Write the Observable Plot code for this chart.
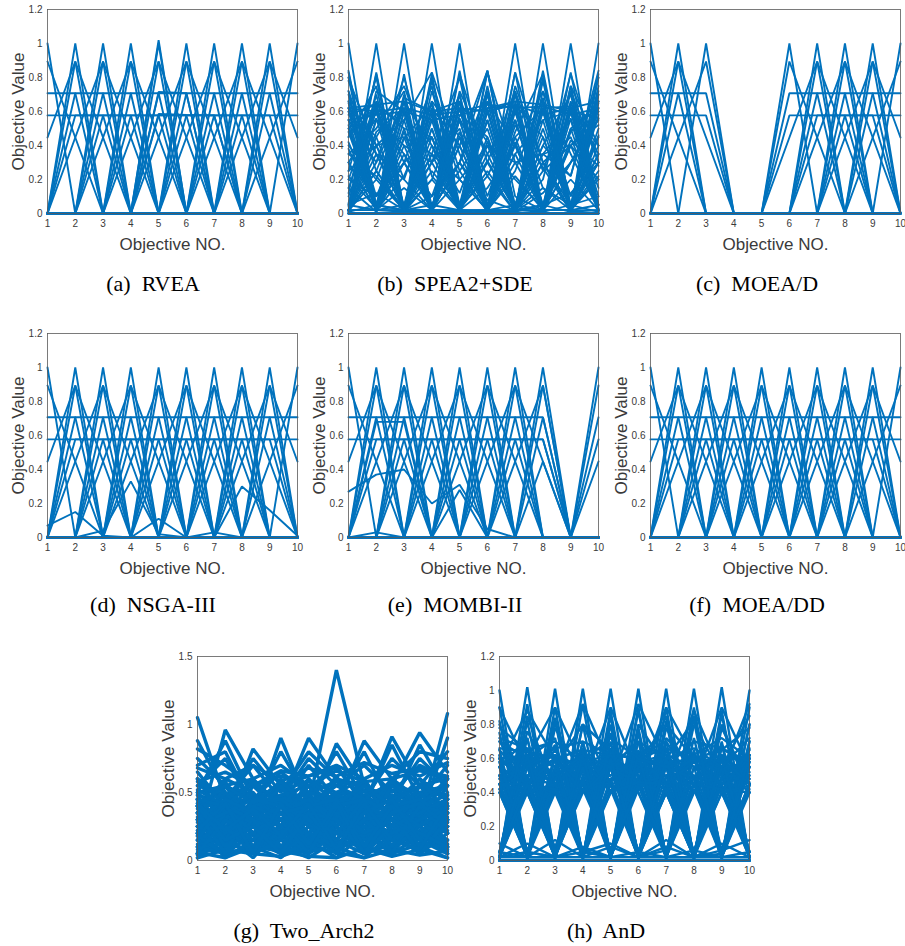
<!DOCTYPE html>
<html><head><meta charset="utf-8">
<script src="https://cdn.jsdelivr.net/npm/d3@7"></script>
<script src="https://cdn.jsdelivr.net/npm/@observablehq/plot@0.6"></script>
<style>
body{margin:0;background:#fff;width:905px;height:946px;position:relative;overflow:hidden}
.panel{position:absolute}
.cap{position:absolute;font-family:"Liberation Serif","Times New Roman",serif;font-size:22px;color:#000;white-space:pre;transform:translate(-50%,-50%);line-height:1}
</style></head><body>
<script>
const objectives = [1,2,3,4,5,6,7,8,9,10];
const yTicks12 = [0,0.2,0.4,0.6,0.8,1,1.2];
const yTicks15 = [0,0.5,1,1.5];

// Reference-direction solutions shared by RVEA, NSGA-III and MOEA/DD
const refFront = [
[1,0,0,0,0,0,0,0,0,0],[0,1,0,0,0,0,0,0,0,0],[0,0,1,0,0,0,0,0,0,0],[0,0,0,1,0,0,0,0,0,0],[0,0,0,0,1,0,0,0,0,0],
[0,0,0,0,0,1,0,0,0,0],[0,0,0,0,0,0,1,0,0,0],[0,0,0,0,0,0,0,1,0,0],[0,0,0,0,0,0,0,0,1,0],[0,0,0,0,0,0,0,0,0,1],
[.894,.447,0,0,0,0,0,0,0,0],[0,.894,.447,0,0,0,0,0,0,0],[0,0,.894,.447,0,0,0,0,0,0],[0,0,0,.894,.447,0,0,0,0,0],[0,0,0,0,.894,.447,0,0,0,0],
[0,0,0,0,0,.894,.447,0,0,0],[0,0,0,0,0,0,.894,.447,0,0],[0,0,0,0,0,0,0,.894,.447,0],[0,0,0,0,0,0,0,0,.894,.447],
[.447,.894,0,0,0,0,0,0,0,0],[0,.447,.894,0,0,0,0,0,0,0],[0,0,.447,.894,0,0,0,0,0,0],[0,0,0,.447,.894,0,0,0,0,0],[0,0,0,0,.447,.894,0,0,0,0],
[0,0,0,0,0,.447,.894,0,0,0],[0,0,0,0,0,0,.447,.894,0,0],[0,0,0,0,0,0,0,.447,.894,0],[0,0,0,0,0,0,0,0,.447,.894],
[.707,.707,0,0,0,0,0,0,0,0],[0,.707,.707,0,0,0,0,0,0,0],[0,0,.707,.707,0,0,0,0,0,0],[0,0,0,.707,.707,0,0,0,0,0],[0,0,0,0,.707,.707,0,0,0,0],
[0,0,0,0,0,.707,.707,0,0,0],[0,0,0,0,0,0,.707,.707,0,0],[0,0,0,0,0,0,0,.707,.707,0],[0,0,0,0,0,0,0,0,.707,.707],
[.577,.577,.577,0,0,0,0,0,0,0],[0,.577,.577,.577,0,0,0,0,0,0],[0,0,.577,.577,.577,0,0,0,0,0],[0,0,0,.577,.577,.577,0,0,0,0],
[0,0,0,0,.577,.577,.577,0,0,0],[0,0,0,0,0,.577,.577,.577,0,0],[0,0,0,0,0,0,.577,.577,.577,0],[0,0,0,0,0,0,0,.577,.577,.577]
];
const rveaExtra = [
[0,0,0,0,1.02,0,0,0,0,0],[0,0,0,0,.715,.707,0,0,0,0],[0,0,0,0,.585,.58,.577,0,0,0]
];
const nsga3Extra = [
[.07,.15,.01,0,0,0,0,0,0,0],[0,0,.04,.33,.02,0,0,0,0,0],[0,0,0,0,.11,0,.03,0,0,0],[0,0,0,0,0,0,0,.3,.16,.01]
];
const moeadRows = [
[1,0,0,0,0,0,0,0,0,0],[0,1,0,0,0,0,0,0,0,0],[0,0,1,0,0,0,0,0,0,0],[0,0,0,0,0,1,0,0,0,0],
[0,0,0,0,0,0,1,0,0,0],[0,0,0,0,0,0,0,1,0,0],[0,0,0,0,0,0,0,0,1,0],[0,0,0,0,0,0,0,0,0,1],
[.894,.447,0,0,0,0,0,0,0,0],[0,.894,.447,0,0,0,0,0,0,0],[0,0,0,0,0,.894,.447,0,0,0],[0,0,0,0,0,0,.894,.447,0,0],[0,0,0,0,0,0,0,.894,.447,0],[0,0,0,0,0,0,0,0,.894,.447],
[.447,.894,0,0,0,0,0,0,0,0],[0,.447,.894,0,0,0,0,0,0,0],[0,0,0,0,0,.447,.894,0,0,0],[0,0,0,0,0,0,.447,.894,0,0],[0,0,0,0,0,0,0,.447,.894,0],[0,0,0,0,0,0,0,0,.447,.894],
[.707,.707,0,0,0,0,0,0,0,0],[0,.707,.707,0,0,0,0,0,0,0],[0,0,0,0,0,.707,.707,0,0,0],[0,0,0,0,0,0,.707,.707,0,0],[0,0,0,0,0,0,0,.707,.707,0],[0,0,0,0,0,0,0,0,.707,.707],
[.577,.577,.577,0,0,0,0,0,0,0],[0,0,0,0,0,.577,.577,.577,0,0],[0,0,0,0,0,0,.577,.577,.577,0],[0,0,0,0,0,0,0,.577,.577,.577]
];
const mombiRows = [
[1,0,0,0,0,0,0,0,0,0],[0,1,0,0,0,0,0,0,0,0],[0,0,1,0,0,0,0,0,0,0],[0,0,0,1,0,0,0,0,0,0],[0,0,0,0,1,0,0,0,0,0],
[0,0,0,0,0,1,0,0,0,0],[0,0,0,0,0,0,1,0,0,0],[0,0,0,0,0,0,0,1,0,0],[0,0,0,0,0,0,0,0,0,1],
[.894,.447,0,0,0,0,0,0,0,0],[0,.894,.447,0,0,0,0,0,0,0],[0,0,.894,.447,0,0,0,0,0,0],[0,0,0,.894,.447,0,0,0,0,0],[0,0,0,0,.894,.447,0,0,0,0],[0,0,0,0,0,.894,.447,0,0,0],[0,0,0,0,0,0,.894,.447,0,0],
[.447,.894,0,0,0,0,0,0,0,0],[0,.447,.894,0,0,0,0,0,0,0],[0,0,.447,.894,0,0,0,0,0,0],[0,0,0,.447,.894,0,0,0,0,0],[0,0,0,0,.447,.894,0,0,0,0],[0,0,0,0,0,.447,.894,0,0,0],[0,0,0,0,0,0,.447,.894,0,0],
[.707,.707,0,0,0,0,0,0,0,0],[0,.707,.707,0,0,0,0,0,0,0],[0,0,.707,.707,0,0,0,0,0,0],[0,0,0,.707,.707,0,0,0,0,0],[0,0,0,0,.707,.707,0,0,0,0],[0,0,0,0,0,.707,.707,0,0,0],[0,0,0,0,0,0,.707,.707,0,0],
[.577,.577,.577,0,0,0,0,0,0,0],[0,.577,.577,.577,0,0,0,0,0,0],[0,0,.577,.577,.577,0,0,0,0,0],[0,0,0,.577,.577,.577,0,0,0,0],[0,0,0,0,.577,.577,.577,0,0,0],[0,0,0,0,0,.577,.577,.577,0,0],
[0,0,0,0,0,0,0,.447,0,.894],[0,0,0,0,0,0,0,.894,0,.447],[0,0,0,0,0,0,0,.707,0,.707],[0,0,0,0,0,0,.577,.577,0,.577],
[.27,.37,.40,.20,.31,.05,0,0,0,0],[0,.03,0,0,.28,0,0,0,0,0],[0,.68,.68,0,0,0,0,0,0,0]
];
const spea2sdeRows = [
[1,0,0,0,0,0,0,0,0,0],[0,1,0,0,0,0,0,0,0,0],[0,0,1,0,0,0,0,0,0,0],[0,0,0,1,0,0,0,0,0,0],[0,0,0,0,1,0,0,0,0,0],
[0,0,0,0,0,0,1,0,0,0],[0,0,0,0,0,0,0,1,0,0],[0,0,0,0,0,0,0,0,1,0],[0,0,0,0,0,0,0,0,0,1],
[0.83,0.02,0.60,0.01,0.45,0.05,0.65,0.02,0.50,0.03],
[0.02,0.83,0.03,0.55,0.02,0.84,0.01,0.62,0.04,0.58],
[0.60,0.35,0.02,0.82,0.01,0.42,0.20,0.03,0.83,0.01],
[0.80,0.01,0.30,0.45,0.02,0.66,0.02,0.35,0.22,0.84],
[0.12,0.82,0.01,0.20,0.62,0.03,0.83,0.02,0.43,0.28],
[0.38,0.03,0.82,0.02,0.56,0.22,0.01,0.84,0.04,0.46],
[0.04,0.48,0.62,0.01,0.84,0.02,0.52,0.27,0.01,0.70],
[0.58,0.64,0.04,0.50,0.02,0.62,0.63,0.01,0.56,0.03],
[0.22,0.03,0.44,0.64,0.05,0.31,0.02,0.62,0.63,0.10],
[0.72,0.25,0.02,0.05,0.40,0.84,0.01,0.12,0.30,0.56],
[0.01,0.66,0.30,0.02,0.58,0.45,0.02,0.80,0.01,0.35],
[0.50,0.02,0.66,0.40,0.01,0.83,0.30,0.02,0.62,0.15],
[0.30,0.56,0.01,0.78,0.25,0.01,0.64,0.45,0.02,0.82],
[0.65,0.10,0.48,0.02,0.82,0.30,0.03,0.55,0.60,0.01],
[0.02,0.30,0.80,0.22,0.03,0.60,0.66,0.01,0.40,0.52],
[0.45,0.62,0.20,0.02,0.48,0.02,0.83,0.30,0.05,0.66],
[0.15,0.01,0.55,0.83,0.35,0.02,0.25,0.68,0.01,0.40],
[0.78,0.40,0.03,0.35,0.01,0.55,0.02,0.20,0.82,0.30],
[0.06,0.65,0.50,0.02,0.30,0.84,0.10,0.02,0.50,0.62],
[0.55,0.02,0.22,0.60,0.66,0.01,0.48,0.82,0.02,0.20],
[0.25,0.80,0.02,0.45,0.02,0.35,0.60,0.05,0.66,0.05],
[0.62,0.60,0.62,0.58,0.60,0.64,0.62,0.63,0.58,0.62],
[0.55,0.58,0.60,0.55,0.58,0.62,0.66,0.64,0.60,0.56],
[0.40,0.20,0.62,0.05,0.25,0.50,0.02,0.40,0.22,0.80],
[0.02,0.40,0.05,0.66,0.45,0.05,0.35,0.55,0.02,0.25],
[0.70,0.05,0.02,0.50,0.03,0.22,0.55,0.02,0.30,0.60],
[0.10,0.55,0.40,0.30,0.70,0.05,0.45,0.02,0.60,0.05],
[0.35,0.22,0.02,0.25,0.05,0.70,0.05,0.62,0.10,0.45],
[0.48,0.02,0.35,0.10,0.55,0.02,0.60,0.15,0.02,0.35],
[0.02,0.20,0.02,0.40,0.12,0.55,0.02,0.30,0.45,0.02],
[0.30,0.02,0.15,0.02,0.30,0.02,0.22,0.02,0.20,0.02],
[0.01,0.25,0.02,0.20,0.02,0.25,0.01,0.30,0.02,0.22],
[0.20,0.10,0.30,0.05,0.02,0.15,0.40,0.05,0.12,0.30],
[0.05,0.12,0.02,0.10,0.30,0.08,0.02,0.15,0.05,0.10],
[0.62,0.45,0.02,0.62,0.40,0.02,0.55,0.05,0.48,0.66],
[0.42,0.03,0.60,0.02,0.65,0.42,0.05,0.45,0.02,0.50],
[0.02,0.55,0.35,0.02,0.20,0.02,0.42,0.02,0.65,0.35],
[0.55,0.30,0.66,0.02,0.02,0.45,0.02,0.66,0.02,0.05],
[0.15,0.60,0.02,0.58,0.02,0.60,0.02,0.05,0.40,0.60],
[0.62,0.02,0.05,0.30,0.50,0.02,0.30,0.35,0.55,0.02],
[0.02,0.02,0.45,0.02,0.01,0.02,0.05,0.02,0.02,0.65],
[0.05,0.02,0.01,0.02,0.62,0.02,0.01,0.05,0.01,0.02],
[0.01,0.05,0.02,0.01,0.02,0.01,0.02,0.01,0.05,0.01],
[0.25,0.40,0.45,0.35,0.20,0.40,0.30,0.35,0.40,0.20],
[0.84,0.05,0.70,0.02,0.62,0.10,0.55,0.02,0.75,0.05],
[0.05,0.70,0.02,0.80,0.05,0.55,0.02,0.78,0.05,0.70],
[0.66,0.40,0.55,0.02,0.70,0.02,0.45,0.62,0.02,0.80],
[0.30,0.02,0.68,0.60,0.02,0.75,0.02,0.40,0.70,0.02],
[0.02,0.62,0.02,0.35,0.80,0.02,0.70,0.02,0.30,0.55],
[0.72,0.02,0.40,0.02,0.30,0.66,0.40,0.02,0.60,0.40],
[0.45,0.75,0.02,0.62,0.02,0.40,0.02,0.72,0.35,0.02],
[0.02,0.45,0.72,0.02,0.45,0.02,0.75,0.30,0.02,0.75],
[0.60,0.02,0.02,0.72,0.20,0.02,0.62,0.02,0.75,0.40],
[0.35,0.50,0.75,0.30,0.02,0.62,0.02,0.50,0.02,0.30],
[0.02,0.35,0.02,0.02,0.72,0.35,0.02,0.02,0.62,0.02],
[0.52,0.02,0.50,0.45,0.02,0.02,0.72,0.02,0.02,0.45],
[0.02,0.72,0.60,0.02,0.02,0.72,0.02,0.66,0.02,0.02],
[0.66,0.02,0.02,0.02,0.55,0.02,0.02,0.02,0.72,0.02],
[0.02,0.02,0.30,0.75,0.02,0.02,0.35,0.02,0.02,0.72],
[0.20,0.65,0.02,0.02,0.40,0.02,0.02,0.60,0.02,0.30],
[0.62,0.64,0.66,0.60,0.62,0.60,0.64,0.58,0.62,0.66],
[0.80,0.35,0.20,0.66,0.02,0.30,0.72,0.25,0.40,0.02],
[0.02,0.25,0.66,0.02,0.30,0.72,0.02,0.25,0.72,0.30],
[0.50,0.62,0.02,0.30,0.66,0.02,0.40,0.72,0.02,0.62]
];
const twoArch2Rows = [
[1.05,0.45,0.20,0.30,0.10,0.35,0.25,0.15,0.30,0.40],
[0.30,0.20,0.15,0.25,0.40,1.40,0.55,0.30,0.20,0.35],
[0.40,0.25,0.35,0.10,0.30,0.20,0.15,0.45,0.30,1.08],
[0.20,0.96,0.60,0.70,0.55,0.40,0.30,0.25,0.45,0.30],
[0.35,0.30,0.82,0.55,0.62,0.68,0.45,0.35,0.25,0.40],
[0.25,0.45,0.30,0.90,0.40,0.35,0.55,0.30,0.40,0.20],
[0.45,0.35,0.25,0.40,0.90,0.60,0.35,0.45,0.20,0.30],
[0.30,0.40,0.45,0.30,0.35,0.86,0.55,0.40,0.35,0.25],
[0.20,0.30,0.40,0.35,0.30,0.40,0.88,0.60,0.45,0.35],
[0.40,0.25,0.30,0.45,0.35,0.30,0.40,0.91,0.55,0.60],
[0.35,0.40,0.20,0.30,0.45,0.35,0.30,0.55,0.94,0.65],
[0.88,0.50,0.35,0.20,0.40,0.30,0.45,0.35,0.30,0.90],
[0.70,0.80,0.40,0.55,0.30,0.50,0.35,0.60,0.80,0.75],
[0.60,0.45,0.70,0.45,0.75,0.55,0.70,0.50,0.70,0.60],
[0.55,0.75,0.40,0.80,0.45,0.80,0.45,0.75,0.55,0.80],
[0.75,0.55,0.60,0.40,0.70,0.45,0.80,0.40,0.85,0.50],
[0.50,0.88,0.45,0.65,0.50,0.70,0.40,0.85,0.45,0.70],
[0.65,0.40,0.75,0.50,0.80,0.60,0.55,0.45,0.75,0.55],
[0.10,0.30,0.05,0.40,0.20,0.35,0.10,0.45,0.15,0.30],
[0.40,0.05,0.35,0.15,0.45,0.05,0.40,0.10,0.35,0.05],
[0.25,0.45,0.20,0.05,0.30,0.45,0.20,0.30,0.05,0.45],
[0.05,0.20,0.45,0.30,0.05,0.25,0.45,0.05,0.40,0.20],
[0.45,0.35,0.10,0.25,0.40,0.15,0.05,0.35,0.45,0.10],
[0.15,0.05,0.30,0.45,0.15,0.40,0.30,0.20,0.10,0.40],
[0.30,0.40,0.45,0.10,0.05,0.30,0.35,0.45,0.25,0.15],
[0.35,0.15,0.05,0.35,0.45,0.20,0.10,0.05,0.45,0.35],
[0.05,0.45,0.25,0.20,0.35,0.05,0.45,0.25,0.20,0.05],
[0.20,0.10,0.40,0.05,0.25,0.45,0.15,0.40,0.05,0.25],
[0.45,0.25,0.15,0.40,0.10,0.30,0.25,0.15,0.35,0.45],
[0.10,0.35,0.35,0.25,0.40,0.10,0.35,0.30,0.30,0.10],
[0.38,0.05,0.20,0.30,0.20,0.38,0.05,0.45,0.15,0.30],
[0.02,0.25,0.10,0.15,0.05,0.20,0.30,0.10,0.25,0.05],
[0.25,0.02,0.15,0.05,0.25,0.10,0.02,0.20,0.05,0.20],
[0.12,0.18,0.02,0.25,0.15,0.02,0.20,0.05,0.18,0.12],
[0.05,0.10,0.25,0.10,0.02,0.15,0.10,0.25,0.10,0.02],
[0.20,0.05,0.10,0.02,0.18,0.25,0.05,0.12,0.22,0.15],
[0.30,0.20,0.30,0.20,0.30,0.20,0.30,0.20,0.30,0.20],
[0.15,0.30,0.15,0.30,0.15,0.30,0.15,0.30,0.15,0.30],
[0.42,0.30,0.48,0.35,0.42,0.48,0.38,0.45,0.40,0.48],
[0.48,0.42,0.35,0.48,0.30,0.42,0.48,0.35,0.48,0.38],
[0.35,0.48,0.42,0.30,0.48,0.35,0.42,0.48,0.35,0.45],
[0.08,0.40,0.18,0.48,0.08,0.40,0.20,0.42,0.10,0.48],
[0.48,0.12,0.42,0.08,0.45,0.15,0.48,0.08,0.42,0.12],
[0.22,0.28,0.35,0.42,0.28,0.22,0.18,0.30,0.38,0.25],
[0.40,0.18,0.25,0.15,0.35,0.28,0.42,0.22,0.12,0.38],
[0.02,0.08,0.05,0.03,0.10,0.06,0.02,0.08,0.04,0.07],
[0.06,0.02,0.10,0.07,0.03,0.02,0.09,0.03,0.08,0.02],
[0.28,0.12,0.08,0.22,0.32,0.12,0.28,0.18,0.25,0.08],
[0.18,0.38,0.28,0.10,0.20,0.35,0.12,0.38,0.28,0.32],
[0.50,0.55,0.45,0.52,0.58,0.50,0.48,0.55,0.50,0.55],
[0.55,0.48,0.55,0.45,0.50,0.58,0.55,0.45,0.55,0.48],
[0.60,0.30,0.50,0.25,0.55,0.35,0.60,0.30,0.50,0.28],
[0.32,0.58,0.28,0.55,0.35,0.62,0.30,0.58,0.32,0.60],
[0.45,0.20,0.55,0.35,0.20,0.50,0.28,0.52,0.40,0.22],
[0.25,0.50,0.30,0.48,0.55,0.25,0.52,0.20,0.55,0.45],
[0.50,0.30,0.60,0.20,0.50,0.45,0.35,0.60,0.25,0.55],
[0.20,0.55,0.25,0.60,0.35,0.50,0.60,0.25,0.55,0.30],
[0.60,0.40,0.30,0.55,0.25,0.60,0.20,0.55,0.40,0.60],
[0.35,0.60,0.50,0.25,0.60,0.30,0.55,0.40,0.60,0.35],
[0.10,0.20,0.35,0.15,0.40,0.25,0.10,0.35,0.20,0.40],
[0.30,0.10,0.20,0.40,0.15,0.10,0.35,0.15,0.40,0.25],
[0.40,0.30,0.10,0.20,0.35,0.40,0.25,0.05,0.30,0.15],
[0.05,0.40,0.30,0.35,0.10,0.20,0.40,0.30,0.10,0.35],
[0.25,0.15,0.45,0.25,0.10,0.35,0.05,0.25,0.35,0.10],
[0.15,0.25,0.10,0.40,0.30,0.05,0.25,0.40,0.15,0.45],
[0.44,0.36,0.28,0.40,0.44,0.32,0.44,0.36,0.44,0.28],
[0.04,0.15,0.20,0.05,0.12,0.30,0.05,0.15,0.30,0.10],
[0.18,0.04,0.30,0.18,0.06,0.12,0.22,0.05,0.12,0.25],
[0.82,0.70,0.55,0.66,0.62,0.70,0.60,0.70,0.62,0.72],
[0.68,0.60,0.70,0.58,0.68,0.62,0.72,0.64,0.68,0.60],
[0.58,0.65,0.55,0.62,0.55,0.66,0.58,0.60,0.66,0.62],
[0.52,0.40,0.58,0.40,0.60,0.42,0.55,0.40,0.60,0.45],
[0.40,0.55,0.42,0.58,0.40,0.55,0.45,0.58,0.42,0.55],
[0.30,0.45,0.10,0.35,0.20,0.05,0.40,0.30,0.45,0.20],
[0.45,0.10,0.30,0.20,0.40,0.30,0.20,0.45,0.10,0.35],
[0.05,0.35,0.40,0.45,0.25,0.35,0.30,0.10,0.30,0.45],
[0.35,0.25,0.05,0.15,0.45,0.40,0.45,0.35,0.20,0.10],
[0.20,0.40,0.30,0.05,0.20,0.15,0.35,0.40,0.45,0.30],
[0.40,0.20,0.40,0.30,0.10,0.45,0.10,0.20,0.30,0.40],
[0.10,0.05,0.20,0.35,0.45,0.25,0.40,0.05,0.40,0.20],
[0.25,0.35,0.45,0.40,0.30,0.10,0.30,0.35,0.05,0.30],
[0.45,0.40,0.20,0.10,0.35,0.30,0.05,0.25,0.35,0.45],
[0.15,0.45,0.35,0.30,0.05,0.40,0.20,0.30,0.20,0.10],
[0.35,0.05,0.45,0.45,0.30,0.20,0.45,0.10,0.40,0.35],
[0.05,0.30,0.15,0.35,0.40,0.45,0.10,0.40,0.25,0.40],
[0.40,0.15,0.25,0.05,0.35,0.10,0.35,0.45,0.15,0.05],
[0.22,0.42,0.05,0.42,0.12,0.42,0.05,0.35,0.42,0.25],
[0.42,0.22,0.38,0.18,0.42,0.08,0.42,0.15,0.08,0.42]
];
const andRows = [
[1,0,0,0,0,0,0,0,0,0],[0,1.02,0,0,0,0,0,0,0,0],[0,0,1.01,0,0,0,0,0,0,0],[0,0,0,1.01,0,0,0,0,0,0],[0,0,0,0,1.01,0,0,0,0,0],
[0,0,0,0,0,1.01,0,0,0,0],[0,0,0,0,0,0,1.01,0,0,0],[0,0,0,0,0,0,0,1.01,0,0],[0,0,0,0,0,0,0,0,1.02,0],[0,0,0,0,0,0,0,0,0,1],
[0.90,0.02,0.62,0.01,0.55,0.02,0.66,0.01,0.60,0.02],
[0.02,0.92,0.03,0.60,0.02,0.90,0.01,0.65,0.02,0.58],
[0.62,0.02,0.90,0.02,0.58,0.02,0.60,0.02,0.88,0.01],
[0.01,0.60,0.02,0.92,0.01,0.62,0.02,0.90,0.02,0.66],
[0.58,0.01,0.62,0.02,0.88,0.02,0.90,0.01,0.55,0.02],
[0.02,0.66,0.01,0.58,0.02,0.65,0.02,0.62,0.02,0.90],
[0.75,0.05,0.50,0.45,0.02,0.78,0.02,0.55,0.40,0.02],
[0.05,0.76,0.45,0.02,0.80,0.02,0.50,0.02,0.78,0.45],
[0.48,0.50,0.02,0.80,0.45,0.02,0.78,0.48,0.02,0.62],
[0.55,0.02,0.78,0.50,0.02,0.55,0.02,0.80,0.50,0.02],
[0.02,0.55,0.50,0.02,0.62,0.50,0.02,0.45,0.02,0.80],
[0.65,0.45,0.02,0.55,0.02,0.80,0.55,0.02,0.62,0.48],
[0.45,0.02,0.55,0.02,0.75,0.02,0.45,0.62,0.02,0.55],
[0.02,0.48,0.02,0.70,0.05,0.45,0.02,0.02,0.70,0.02],
[0.60,0.62,0.55,0.60,0.50,0.58,0.62,0.55,0.60,0.52],
[0.50,0.55,0.62,0.55,0.60,0.52,0.55,0.62,0.52,0.60],
[0.66,0.64,0.60,0.65,0.62,0.60,0.66,0.60,0.58,0.62],
[0.45,0.50,0.48,0.52,0.45,0.48,0.50,0.45,0.52,0.48],
[0.40,0.02,0.45,0.02,0.42,0.02,0.40,0.02,0.45,0.02],
[0.02,0.42,0.02,0.48,0.02,0.45,0.02,0.42,0.02,0.45],
[0.50,0.40,0.02,0.45,0.55,0.02,0.42,0.50,0.02,0.40],
[0.02,0.45,0.52,0.02,0.40,0.48,0.02,0.40,0.55,0.02],
[0.42,0.02,0.40,0.55,0.02,0.42,0.55,0.02,0.45,0.50],
[0.70,0.45,0.60,0.02,0.65,0.40,0.02,0.72,0.06,0.58],
[0.05,0.72,0.02,0.65,0.45,0.02,0.70,0.44,0.68,0.05],
[0.02,0.44,0.68,0.05,0.02,0.70,0.46,0.02,0.04,0.70],
[0.82,0.02,0.02,0.80,0.02,0.02,0.82,0.02,0.02,0.80],
[0.02,0.82,0.02,0.02,0.85,0.02,0.02,0.85,0.02,0.02],
[0.02,0.02,0.84,0.02,0.02,0.88,0.02,0.02,0.86,0.02],
[0.45,0.05,0.42,0.04,0.45,0.05,0.40,0.06,0.44,0.05],
[0.05,0.44,0.06,0.42,0.05,0.46,0.04,0.42,0.06,0.45],
[0.02,0.05,0.02,0.08,0.02,0.05,0.02,0.06,0.02,0.05],
[0.10,0.02,0.12,0.02,0.08,0.02,0.12,0.02,0.10,0.02],
[0.02,0.10,0.02,0.05,0.10,0.02,0.08,0.02,0.06,0.12],
[0.55,0.05,0.45,0.55,0.05,0.50,0.45,0.04,0.55,0.40],
[0.42,0.58,0.04,0.40,0.58,0.05,0.42,0.58,0.40,0.05],
[0.60,0.45,0.65,0.40,0.62,0.45,0.60,0.40,0.62,0.45],
[0.40,0.62,0.42,0.66,0.40,0.64,0.42,0.62,0.40,0.60],
[0.65,0.02,0.45,0.62,0.02,0.48,0.66,0.02,0.45,0.62],
[0.02,0.62,0.50,0.02,0.60,0.45,0.02,0.62,0.50,0.02],
[0.50,0.05,0.02,0.42,0.45,0.02,0.06,0.50,0.02,0.44],
[0.05,0.02,0.50,0.06,0.02,0.48,0.42,0.02,0.50,0.46],
[0.90,0.55,0.45,0.60,0.40,0.55,0.62,0.45,0.90,0.55],
[0.55,0.88,0.60,0.45,0.90,0.50,0.45,0.88,0.50,0.92],
[0.45,0.60,0.90,0.55,0.45,0.92,0.58,0.50,0.45,0.60],
[0.60,0.45,0.50,0.92,0.55,0.45,0.90,0.60,0.55,0.50],
[0.78,0.65,0.55,0.80,0.65,0.58,0.80,0.60,0.65,0.78],
[0.62,0.05,0.55,0.02,0.66,0.05,0.58,0.02,0.62,0.05],
[0.05,0.60,0.02,0.66,0.05,0.58,0.02,0.64,0.05,0.60],
[0.48,0.55,0.02,0.50,0.62,0.02,0.55,0.48,0.02,0.55],
[0.02,0.50,0.60,0.02,0.48,0.60,0.02,0.55,0.62,0.02],
[0.58,0.02,0.48,0.62,0.02,0.55,0.60,0.02,0.48,0.62],
[0.70,0.60,0.72,0.02,0.55,0.70,0.02,0.62,0.72,0.60],
[0.55,0.72,0.02,0.70,0.62,0.02,0.72,0.55,0.02,0.70],
[0.02,0.55,0.66,0.70,0.02,0.62,0.70,0.02,0.66,0.55],
[0.45,0.45,0.60,0.45,0.50,0.62,0.45,0.58,0.45,0.60],
[0.60,0.48,0.45,0.58,0.62,0.45,0.50,0.60,0.58,0.45],
[0.80,0.40,0.02,0.60,0.02,0.45,0.85,0.02,0.40,0.65],
[0.40,0.02,0.82,0.02,0.60,0.02,0.40,0.02,0.80,0.40],
[0.02,0.85,0.40,0.02,0.70,0.02,0.60,0.82,0.02,0.02],
[0.50,0.02,0.02,0.55,0.02,0.75,0.02,0.02,0.55,0.85],
[0.02,0.40,0.45,0.02,0.02,0.45,0.40,0.02,0.02,0.42],
[0.45,0.02,0.02,0.42,0.48,0.02,0.02,0.45,0.42,0.02],
[0.45,0.40,0.05,0.42,0.48,0.40,0.06,0.45,0.42,0.40],
[0.05,0.44,0.42,0.05,0.40,0.46,0.45,0.04,0.40,0.44],
[0.55,0.45,0.60,0.40,0.55,0.05,0.58,0.05,0.60,0.45],
[0.02,0.02,0.60,0.02,0.02,0.62,0.02,0.02,0.60,0.02],
[0.60,0.02,0.02,0.62,0.02,0.02,0.60,0.02,0.02,0.62],
[0.02,0.62,0.02,0.02,0.60,0.02,0.02,0.62,0.02,0.02],
[0.72,0.66,0.50,0.62,0.55,0.70,0.60,0.66,0.55,0.72],
[0.55,0.65,0.70,0.58,0.72,0.60,0.55,0.70,0.66,0.58],
[0.04,0.45,0.08,0.48,0.05,0.44,0.06,0.46,0.05,0.45]
];

const captions = ["(a)  RVEA","(b)  SPEA2+SDE","(c)  MOEA/D","(d)  NSGA-III","(e)  MOMBI-II","(f)  MOEA/DD","(g)  Two_Arch2","(h)  AnD"];

const panels = [
  {rows: refFront.concat(rveaExtra), left: 47, top: 9, yMax: 1.2, ticks: yTicks12, sw: 1.9, cap: captions[0], cx: 153, cy: 284},
  {rows: spea2sdeRows, left: 348, top: 9, yMax: 1.2, ticks: yTicks12, sw: 1.8, cap: captions[1], cx: 455, cy: 284},
  {rows: moeadRows, left: 650, top: 9, yMax: 1.2, ticks: yTicks12, sw: 1.9, cap: captions[2], cx: 757, cy: 284},
  {rows: refFront.concat(nsga3Extra), left: 47, top: 333, yMax: 1.2, ticks: yTicks12, sw: 1.9, cap: captions[3], cx: 153, cy: 605},
  {rows: mombiRows, left: 348, top: 333, yMax: 1.2, ticks: yTicks12, sw: 1.9, cap: captions[4], cx: 455, cy: 605},
  {rows: refFront, left: 650, top: 333, yMax: 1.2, ticks: yTicks12, sw: 1.9, cap: captions[5], cx: 757, cy: 605},
  {rows: twoArch2Rows, left: 197, top: 656, yMax: 1.5, ticks: yTicks15, sw: 3.4, cap: captions[6], cx: 304, cy: 931},
  {rows: andRows, left: 499, top: 656, yMax: 1.2, ticks: yTicks12, sw: 2.4, cap: captions[7], cx: 606, cy: 931}
];

const ML = 47, MR = 5, MT = 10, MB = 46, PW = 250, PH = 204;
const labelFont = "'Liberation Sans', Arial, sans-serif";

for (const p of panels) {
  const data = p.rows.flatMap((r, k) => r.map((v, i) => ({id: k, obj: objectives[i], value: v})));
  const svg = Plot.plot({
    width: ML + PW + MR, height: MT + PH + MB,
    marginLeft: ML, marginRight: MR, marginTop: MT, marginBottom: MB,
    style: {fontFamily: labelFont, fontSize: "10px", color: "#3a3a3a", background: "transparent", overflow: "visible"},
    x: {domain: [1, 10]},
    y: {domain: [0, p.yMax]},
    marks: [
      Plot.lineY(data, {x: "obj", y: "value", z: "id", stroke: "#0072BD", strokeWidth: p.sw, strokeLinejoin: "miter"}),
      Plot.frame({stroke: "#5a5a5a", strokeWidth: 0.8}),
      Plot.axisX({ticks: objectives, tickFormat: d => String(d), tickSize: 0, tickPadding: 6, label: null}),
      Plot.axisY({ticks: p.ticks, tickFormat: d => String(d), tickSize: 0, tickPadding: 5, label: null}),
      Plot.text(["Objective NO."], {frameAnchor: "bottom", dy: 31, fontSize: 17, fill: "#3a3a3a", lineAnchor: "middle", textAnchor: "middle"}),
      Plot.text(["Objective Value"], {frameAnchor: "left", dx: -29, rotate: -90, fontSize: 17, fill: "#3a3a3a", lineAnchor: "middle", textAnchor: "middle"})
    ]
  });
  const div = document.createElement("div");
  div.className = "panel";
  div.style.left = (p.left - ML) + "px";
  div.style.top = (p.top - MT) + "px";
  div.appendChild(svg);
  document.body.appendChild(div);
  const cap = document.createElement("div");
  cap.className = "cap";
  cap.textContent = p.cap;
  cap.style.left = p.cx + "px";
  cap.style.top = p.cy + "px";
  document.body.appendChild(cap);
}
</script>
</body></html>
